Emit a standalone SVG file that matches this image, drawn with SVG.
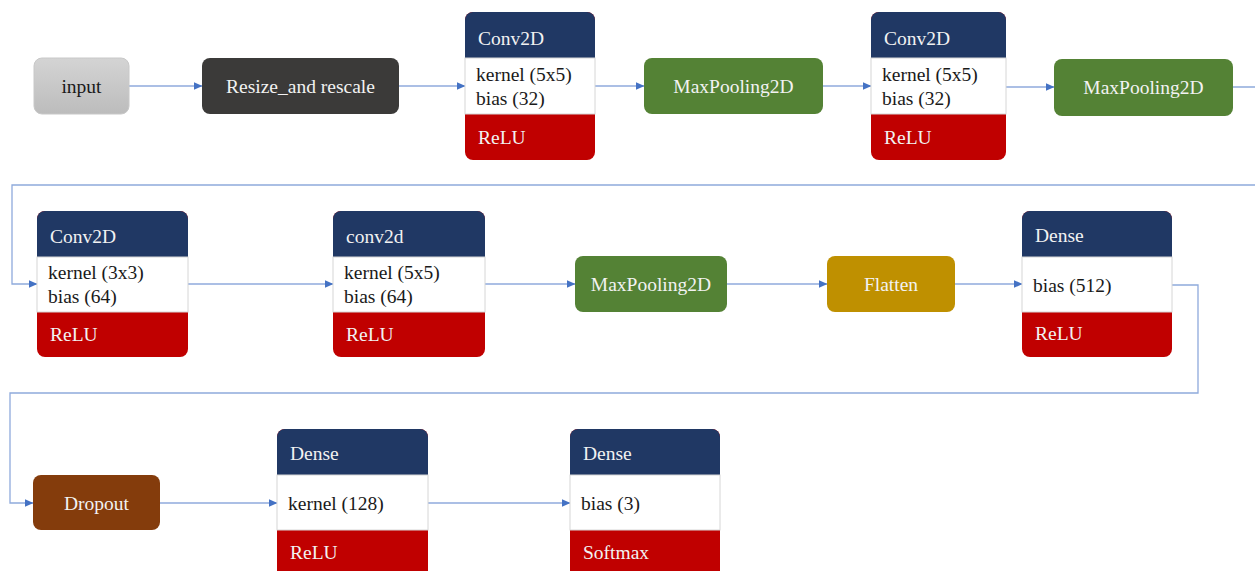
<svg xmlns="http://www.w3.org/2000/svg" width="1255" height="571" viewBox="0 0 1255 571">
<style>
text{font-family:"Liberation Serif","DejaVu Serif",serif;font-size:19.5px}
.w{fill:#f2f2f2}
.k{fill:#1a1a1a}
.c{text-anchor:middle}
.hdr{fill:#203864}
.act{fill:#c00000}
.bod{fill:#ffffff;stroke:#d6d6d6;stroke-width:1}
.ln{fill:none;stroke:#8faadc;stroke-width:1.3}
</style>
<defs>
<linearGradient id="gIn" x1="0" y1="0" x2="0" y2="1">
<stop offset="0" stop-color="#d4d4d4"/>
<stop offset="1" stop-color="#bcbcbc"/>
</linearGradient>
<marker id="ar" markerWidth="9" markerHeight="8" refX="8.5" refY="4" orient="auto" markerUnits="userSpaceOnUse">
<path d="M0,0 L9,4 L0,8 Z" fill="#4472c4"/>
</marker>
</defs>
<rect width="1255" height="571" fill="#ffffff"/>

<g id="connectors">
<path class="ln" marker-end="url(#ar)" d="M129,86 H202"/>
<path class="ln" marker-end="url(#ar)" d="M399,86 H465"/>
<path class="ln" marker-end="url(#ar)" d="M595,86 H644"/>
<path class="ln" marker-end="url(#ar)" d="M823,86 H871"/>
<path class="ln" marker-end="url(#ar)" d="M1006,87 H1054"/>
<path class="ln" marker-end="url(#ar)" d="M1233,87 H1255 M1255,185 H12 V284 H37"/>
<path class="ln" marker-end="url(#ar)" d="M188,284 H333"/>
<path class="ln" marker-end="url(#ar)" d="M485,284 H575"/>
<path class="ln" marker-end="url(#ar)" d="M727,284 H827"/>
<path class="ln" marker-end="url(#ar)" d="M955,284 H1022"/>
<path class="ln" marker-end="url(#ar)" d="M1172,285 H1198 V393 H10 V503 H33"/>
<path class="ln" marker-end="url(#ar)" d="M160,503 H277"/>
<path class="ln" marker-end="url(#ar)" d="M428,503 H570"/>
</g>

<g id="input">
<rect x="34" y="58" width="95" height="56" rx="8" fill="url(#gIn)" stroke="#c8c8c8"/>
<text class="k c" x="81.5" y="93">input</text>
</g>
<g id="resize">
<rect x="202" y="58" width="197" height="56" rx="8" fill="#3b3a39"/>
<text class="w c" x="300.5" y="93">Resize_and rescale</text>
</g>

<g id="conv1">
<rect class="act" x="465" y="12" width="130" height="148" rx="8"/>
<rect class="hdr" x="465" y="12" width="130" height="56" rx="8"/>
<rect class="bod" x="465" y="58" width="130" height="56"/>
<text class="w" x="478" y="45">Conv2D</text>
<text class="k" x="476" y="81">kernel (5x5)</text>
<text class="k" x="476" y="105">bias (32)</text>
<text class="w" x="478" y="144">ReLU</text>
</g>
<g id="pool1">
<rect x="644" y="58" width="179" height="56" rx="8" fill="#548235"/>
<text class="w c" x="733.5" y="93">MaxPooling2D</text>
</g>
<g id="conv2">
<rect class="act" x="871" y="12" width="135" height="148" rx="8"/>
<rect class="hdr" x="871" y="12" width="135" height="56" rx="8"/>
<rect class="bod" x="871" y="58" width="135" height="56"/>
<text class="w" x="884" y="45">Conv2D</text>
<text class="k" x="882" y="81">kernel (5x5)</text>
<text class="k" x="882" y="105">bias (32)</text>
<text class="w" x="884" y="144">ReLU</text>
</g>
<g id="pool2">
<rect x="1054" y="59" width="179" height="57" rx="8" fill="#548235"/>
<text class="w c" x="1143.5" y="94">MaxPooling2D</text>
</g>

<g id="conv3">
<rect class="act" x="37" y="211" width="151" height="146" rx="8"/>
<rect class="hdr" x="37" y="211" width="151" height="56" rx="8"/>
<rect class="bod" x="37" y="257" width="151" height="55"/>
<text class="w" x="50" y="243">Conv2D</text>
<text class="k" x="48" y="279">kernel (3x3)</text>
<text class="k" x="48" y="303">bias (64)</text>
<text class="w" x="50" y="341">ReLU</text>
</g>
<g id="conv4">
<rect class="act" x="333" y="211" width="152" height="146" rx="8"/>
<rect class="hdr" x="333" y="211" width="152" height="56" rx="8"/>
<rect class="bod" x="333" y="257" width="152" height="55"/>
<text class="w" x="346" y="243">conv2d</text>
<text class="k" x="344" y="279">kernel (5x5)</text>
<text class="k" x="344" y="303">bias (64)</text>
<text class="w" x="346" y="341">ReLU</text>
</g>
<g id="pool3">
<rect x="575" y="256" width="152" height="56" rx="8" fill="#548235"/>
<text class="w c" x="651" y="291">MaxPooling2D</text>
</g>
<g id="flatten">
<rect x="827" y="256" width="128" height="56" rx="8" fill="#bf9000"/>
<text class="w c" x="891" y="291">Flatten</text>
</g>
<g id="dense1">
<rect class="act" x="1022" y="211" width="150" height="146" rx="8"/>
<rect class="hdr" x="1022" y="211" width="150" height="56" rx="8"/>
<rect class="bod" x="1022" y="257" width="150" height="55"/>
<text class="w" x="1035" y="242">Dense</text>
<text class="k" x="1033" y="292">bias (512)</text>
<text class="w" x="1035" y="340">ReLU</text>
</g>

<g id="dropout">
<rect x="33" y="475" width="127" height="55" rx="8" fill="#843c0c"/>
<text class="w c" x="96.5" y="510">Dropout</text>
</g>
<g id="dense2">
<rect class="act" x="277" y="429" width="151" height="150" rx="8"/>
<rect class="hdr" x="277" y="429" width="151" height="56" rx="8"/>
<rect class="bod" x="277" y="475" width="151" height="55"/>
<text class="w" x="290" y="460">Dense</text>
<text class="k" x="288" y="510">kernel (128)</text>
<text class="w" x="290" y="559">ReLU</text>
</g>
<g id="dense3">
<rect class="act" x="570" y="429" width="150" height="150" rx="8"/>
<rect class="hdr" x="570" y="429" width="150" height="56" rx="8"/>
<rect class="bod" x="570" y="475" width="150" height="55"/>
<text class="w" x="583" y="460">Dense</text>
<text class="k" x="581" y="510">bias (3)</text>
<text class="w" x="583" y="559">Softmax</text>
</g>
</svg>
